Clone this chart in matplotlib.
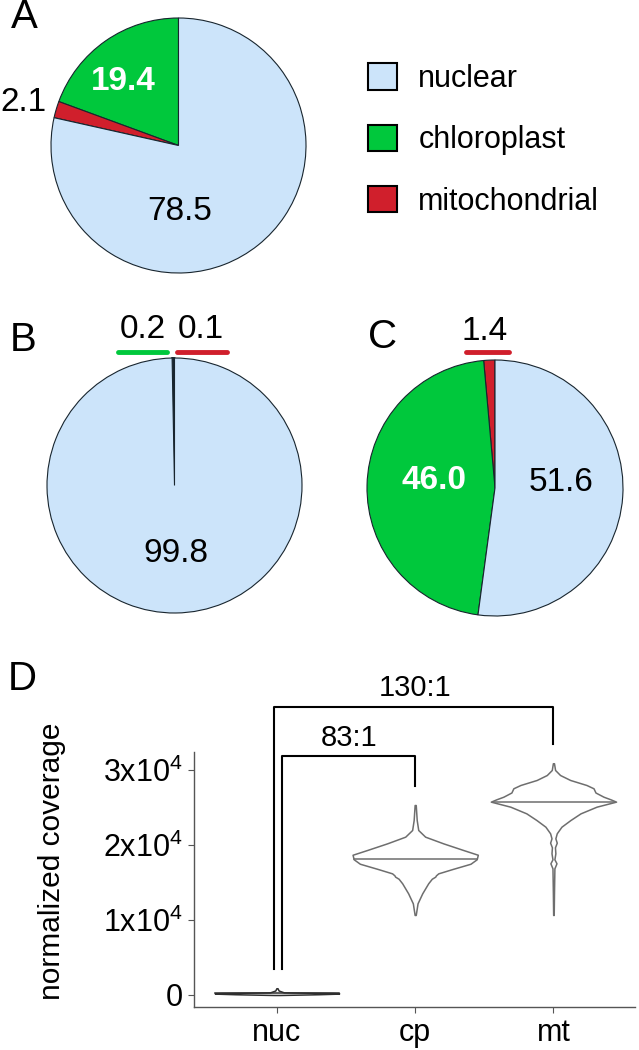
import numpy as np
import matplotlib
matplotlib.use("Agg")
import matplotlib.pyplot as plt
from matplotlib.patches import Patch

plt.rcParams['font.family'] = ['Liberation Sans', 'DejaVu Sans']

# --- data -------------------------------------------------------------
compartments = ['nuclear', 'chloroplast', 'mitochondrial']
colors = {'nuclear': '#CCE4FA', 'chloroplast': '#00C83C', 'mitochondrial': '#D01F2C'}

# pie A / B / C: (compartment, percent) in drawing order from 12 o'clock
pie_a = [('chloroplast', 19.4), ('mitochondrial', 2.1), ('nuclear', 78.5)]
pie_b = [('chloroplast', 0.2), ('mitochondrial', 0.1), ('nuclear', 99.8)]
pie_c = [('mitochondrial', 1.4), ('chloroplast', 46.0), ('nuclear', 51.6)]

# panel D violins: coverage levels and half widths
groups = ['nuc', 'cp', 'mt']
nuc_levels = [0, 100, 180, 220, 260, 350, 600, 900]
nuc_halfw = [0.02, 0.30, 0.44, 0.45, 0.40, 0.05, 0.012, 0.004]
nuc_median = 220

cp_levels = [10670, 12220, 13560, 14890, 15500, 15780, 15950, 16220, 16800, 17500,
             18100, 18700, 19330, 20220, 21110, 22000, 23330, 25330]
cp_halfw = [0.004, 0.017, 0.051, 0.094, 0.120, 0.145, 0.150, 0.167, 0.27, 0.40,
            0.445, 0.453, 0.348, 0.203, 0.072, 0.022, 0.011, 0.004]
cp_median = 18100

mt_levels = [10670, 13560, 16890, 17560, 18090, 18890, 19690, 20310, 20890, 21560,
             22440, 23330, 24220, 25110, 25780, 26090, 26440, 27000, 27560, 28000,
             28670, 29330, 30000, 30900]
mt_halfw = [0.002, 0.004, 0.007, 0.022, 0.007, 0.014, 0.011, 0.024, 0.014, 0.024,
            0.058, 0.123, 0.196, 0.312, 0.453, 0.413, 0.362, 0.304, 0.290, 0.239,
            0.121, 0.048, 0.012, 0.004]
mt_median = 25700

# comparison brackets: (left x, right x, left foot, top, right foot, label)
brackets = [(-0.022, 2.0, 3470, 38400, 33500, '130:1'),
            (0.036, 1.0, 3470, 31900, 27900, '83:1')]

W, H = 639, 1050
fig = plt.figure(figsize=(W / 100, H / 100), dpi=100)


def box(x0, y0, x1, y1):
    return [x0 / W, 1 - y1 / H, (x1 - x0) / W, (y1 - y0) / H]


def pie_axes(cx, cy, r, slices):
    k = 1.3
    ax = fig.add_axes(box(cx - k * r, cy - k * r, cx + k * r, cy + k * r))
    wedges, _ = ax.pie([v for _, v in slices], colors=[colors[c] for c, _ in slices],
                       startangle=90, counterclock=True,
                       wedgeprops=dict(edgecolor='#18252e', linewidth=0.8))
    ax.set_xlim(-k, k)
    ax.set_ylim(-k, k)
    ax.set_axis_off()
    return ax, wedges


fs = 24

# A
ax, _ = pie_axes(178.5, 145.5, 127.5, pie_a)
ax.text(-0.43, 0.50, '19.4', color='white', fontsize=fs, fontweight='bold', ha='center', va='center')
ax.text(-1.22, 0.34, '2.1', fontsize=fs, ha='center', va='center')
ax.text(0.01, -0.52, '78.5', fontsize=fs, ha='center', va='center')

# B
ax, wedges = pie_axes(174.5, 485.5, 127.5, pie_b)
for w in wedges[:2]:
    w.set_linewidth(1.3)
ax.text(0.01, -0.53, '99.8', fontsize=fs, ha='center', va='center')
ax.text(-0.25, 1.22, '0.2', fontsize=fs, ha='center', va='center')
ax.text(0.21, 1.22, '0.1', fontsize=fs, ha='center', va='center')
ax.plot([-0.44, -0.06], [1.05, 1.05], color=colors['chloroplast'], lw=3.5, solid_capstyle='round', clip_on=False)
ax.plot([0.02, 0.41], [1.05, 1.05], color=colors['mitochondrial'], lw=3.5, solid_capstyle='round', clip_on=False)

# C
ax, _ = pie_axes(495, 488, 128, pie_c)
ax.text(-0.48, 0.06, '46.0', color='white', fontsize=fs, fontweight='bold', ha='center', va='center')
ax.text(0.52, 0.04, '51.6', fontsize=fs, ha='center', va='center')
ax.text(-0.08, 1.22, '1.4', fontsize=fs, ha='center', va='center')
ax.plot([-0.23, 0.11], [1.06, 1.06], color=colors['mitochondrial'], lw=3.5, solid_capstyle='round', clip_on=False)

# legend
handles = [Patch(facecolor=colors[c], edgecolor='black', linewidth=1.5) for c in compartments]
fig.legend(handles, compartments, loc='center left', bbox_to_anchor=(368 / W, 1 - 140 / H),
           frameon=False, fontsize=22, handlelength=0.95, handleheight=0.95,
           handletextpad=0.7, labelspacing=1.0, borderpad=0, borderaxespad=0)

# panel letters
for letter, x, y in [('A', 24, 17), ('B', 23, 340), ('C', 383, 337), ('D', 22, 679)]:
    fig.text(x / W, 1 - y / H, letter, fontsize=29, ha='center', va='center')

# D: violins
ax = fig.add_axes(box(194, 752, 635, 1007))
line_cols = ['#2e2e2e', '#6e6e6e', '#6e6e6e']
violins = [(nuc_levels, nuc_halfw, nuc_median),
           (cp_levels, cp_halfw, cp_median),
           (mt_levels, mt_halfw, mt_median)]
for pos, (lv, hw, med) in enumerate(violins):
    lv = np.array(lv)
    hw = np.array(hw)
    ax.fill_betweenx(lv, pos - hw, pos + hw, facecolor='white', edgecolor=line_cols[pos], lw=1.1)
    mw = np.interp(med, lv, hw)
    ax.plot([pos - mw, pos + mw], [med, med], color=line_cols[pos], lw=1.1)

for x0, x1, y0, top, y1, lab in brackets:
    ax.plot([x0, x0, x1, x1], [y0, top, top, y1], color='black', lw=1.5, clip_on=False)
ax.text(1.0, 40900, brackets[0][5], fontsize=21, ha='center', va='center')
ax.text(0.52, 34300, brackets[1][5], fontsize=21, ha='center', va='center')

ax.set_xlim(-0.6, 2.59)
ax.set_ylim(-1600, 32400)
ax.set_xticks(range(3))
ax.set_xticklabels(groups)
ax.set_yticks([0, 10000, 20000, 30000])
ax.set_yticklabels(['0', r'$\mathregular{1x10^4}$', r'$\mathregular{2x10^4}$', r'$\mathregular{3x10^4}$'])
for s in ['top', 'right']:
    ax.spines[s].set_visible(False)
for s in ['left', 'bottom']:
    ax.spines[s].set_color('#555555')
    ax.spines[s].set_linewidth(1.0)
ax.tick_params(axis='both', direction='out', length=4, color='#555555', labelsize=22, pad=4)
ax.set_ylabel('normalized coverage', fontsize=21.5)
ax.yaxis.set_label_coords(-0.29, 0.57)

fig.savefig('out.png', dpi=100)
